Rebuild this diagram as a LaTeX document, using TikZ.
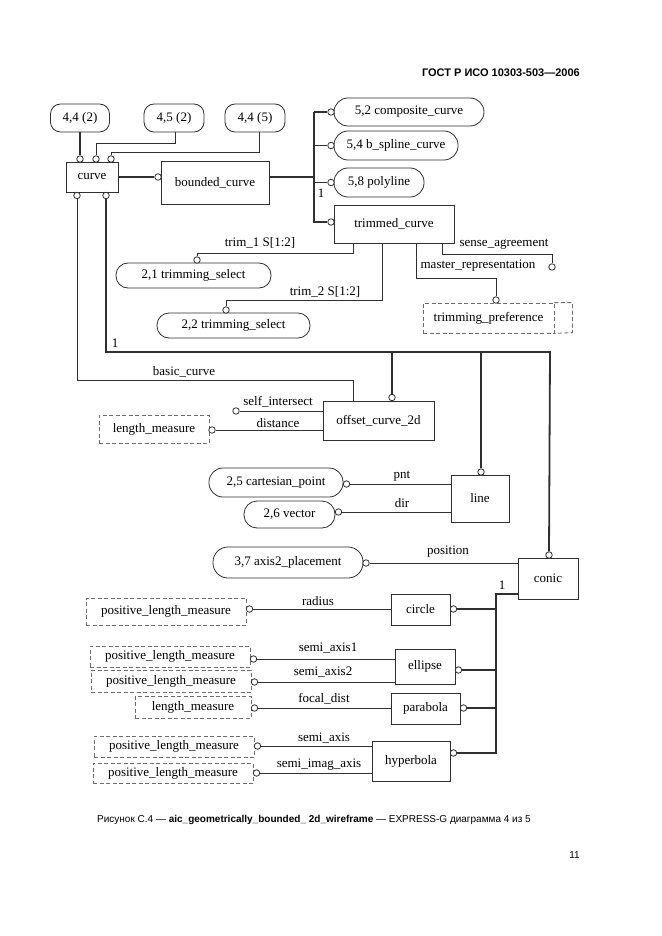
\documentclass[tikz,border=0pt]{standalone}
\usepackage{fontspec}
\setmainfont{Liberation Serif}
\newfontfamily\hdr{Liberation Sans}
\usetikzlibrary{calc}
\definecolor{ln}{HTML}{303030}
\tikzset{
  base/.style={draw=ln, line width=0.8pt, inner sep=0pt, font=\fontsize{13}{15}\selectfont, text=black},
  ent/.style={base, rectangle},
  refbox/.style={base, rectangle, rounded corners=10pt},
  pill/.style={base, rectangle, rounded corners=12pt},
  dtype/.style={base, rectangle, draw=gray!85!black, dash pattern=on 4pt off 2.5pt},
  oc/.style={circle, draw=ln, line width=0.8pt, fill=white, minimum size=6.5pt, inner sep=0pt},
  lbl/.style={inner sep=0pt, font=\fontsize{13}{15}\selectfont},
  thinl/.style={draw=ln, line width=0.8pt},
  thickl/.style={draw=ln, line width=1.8pt},
}
\begin{document}
\begin{tikzpicture}[x=1pt,y=-1pt]
\useasboundingbox (0,0) rectangle (661,936);
\fill[white] (0,0) rectangle (661,936);

% header and footer
\node[anchor=east, inner sep=0pt, font=\hdr\bfseries\fontsize{11}{13}\selectfont] (hd) at (580,73) {ГОСТ Р ИСО 10303-503—2006};
\node[anchor=west, inner sep=0pt, font=\hdr\fontsize{10}{12}\selectfont] (cap) at (97,820) {Рисунок С.4 — \textbf{aic\_geometrically\_bounded\_ 2d\_wireframe} — EXPRESS-G диаграмма 4 из 5};
\node[anchor=east, inner sep=0pt, font=\hdr\fontsize{10}{12}\selectfont] (pg) at (580,855) {11};

% page reference boxes
\node[refbox, minimum width=59pt, minimum height=28pt] (r1) at (80,118) {4,4 (2)};
\node[refbox, minimum width=60pt, minimum height=28pt] (r2) at (174,118) {4,5 (2)};
\node[refbox, minimum width=60pt, minimum height=28pt] (r3) at (255,118) {4,4 (5)};

% entities
\node[ent, minimum width=52pt, minimum height=30pt] (curve) at (92,177) {curve};
\node[ent, minimum width=108pt, minimum height=43pt] (bounded) at (215,182.5) {bounded\_curve};
\node[pill, minimum width=150pt, minimum height=28pt, rounded corners=14pt] (comp) at (409,112) {5,2 composite\_curve};
\node[pill, minimum width=124pt, minimum height=29pt, rounded corners=14pt] (bsp) at (396,145.5) {5,4 b\_spline\_curve};
\node[pill, minimum width=90pt, minimum height=29pt, rounded corners=14pt] (poly) at (379,182.5) {5,8 polyline};
\node[ent, minimum width=120pt, minimum height=38pt] (trim) at (394,224) {trimmed\_curve};
\node[pill, minimum width=155pt, minimum height=25pt] (ts1) at (193.5,275.5) {2,1 trimming\_select};
\node[pill, minimum width=153pt, minimum height=25pt] (ts2) at (233.5,325.5) {2,2 trimming\_select};
\node[dtype, minimum width=131pt, minimum height=30pt] (tpref) at (488.5,318) {trimming\_preference};
\draw[gray!85!black, line width=0.8pt, dash pattern=on 4pt off 2.5pt] (tpref.north east) -- ++(18,0) -- ++(0,30) -- (tpref.south east);

\node[ent, minimum width=111pt, minimum height=39pt] (offset) at (378.5,420.5) {offset\_curve\_2d};
\node[dtype, minimum width=110pt, minimum height=28pt] (lm1) at (154,429) {length\_measure};
\node[ent, minimum width=58pt, minimum height=47pt] (line) at (480,498.5) {line};
\node[pill, minimum width=134pt, minimum height=29pt, rounded corners=14pt] (cp) at (276,482.5) {2,5 cartesian\_point};
\node[pill, minimum width=91pt, minimum height=27pt, rounded corners=13pt] (vec) at (289.5,514.5) {2,6 vector};
\node[ent, minimum width=60pt, minimum height=41pt] (conic) at (548,578.5) {conic};
\node[pill, minimum width=150pt, minimum height=31pt, rounded corners=15pt] (ax) at (288,562.5) {3,7 axis2\_placement};
\node[ent, minimum width=59pt, minimum height=31pt] (circ) at (420.5,609.5) {circle};
\node[dtype, minimum width=160pt, minimum height=27pt] (plm0) at (166,611.5) {positive\_length\_measure};
\node[ent, minimum width=60pt, minimum height=35pt] (ell) at (425,666.5) {ellipse};
\node[dtype, minimum width=160pt, minimum height=21pt] (plm1) at (170,656.5) {positive\_length\_measure};
\node[dtype, minimum width=160pt, minimum height=22pt] (plm2) at (171,681) {positive\_length\_measure};
\node[ent, minimum width=69pt, minimum height=31pt] (par) at (425.5,708.5) {parabola};
\node[dtype, minimum width=116pt, minimum height=22pt] (lm2) at (193,707) {length\_measure};
\node[ent, minimum width=78pt, minimum height=40pt] (hyp) at (411,761) {hyperbola};
\node[dtype, minimum width=160pt, minimum height=21pt] (plm3) at (174,746.5) {positive\_length\_measure};
\node[dtype, minimum width=160pt, minimum height=20pt] (plm4) at (173,773) {positive\_length\_measure};

% circles (relationship ends)
\node[oc] (cr1) at (80,159) {};
\node[oc] (cr2) at (96,159) {};
\node[oc] (cr3) at (111,159) {};
\node[oc] (ccb1) at (77,195.5) {};
\node[oc] (ccb2) at (106,195.5) {};
\node[oc] (cbc) at (158,177) {};
\node[oc] (ccomp) at (331,112) {};
\node[oc] (cbsp) at (331,145.5) {};
\node[oc] (cpoly) at (331,182.5) {};
\node[oc] (ctrim) at (331,222) {};
\node[oc] (cts1) at (197,260) {};
\node[oc] (cts2) at (226,310) {};
\node[oc] (cmr) at (496,300) {};
\node[oc] (csa) at (552,267) {};
\node[oc] (coff) at (392,397.5) {};
\node[oc] (cline) at (481,472) {};
\node[oc] (cconic) at (549,555) {};
\node[oc] (csi) at (236,411) {};
\node[oc] (cdist) at (212,430) {};
\node[oc] (cpnt) at (346.5,484) {};
\node[oc] (cdir) at (338.5,512) {};
\node[oc] (cpos) at (366,563) {};
\node[oc] (ccirc) at (453.5,609) {};
\node[oc] (cell) at (458.5,670) {};
\node[oc] (cpar) at (463.5,708) {};
\node[oc] (chyp) at (453.5,753) {};
\node[oc] (crad) at (249.5,609) {};
\node[oc] (csa1) at (253.5,659) {};
\node[oc] (csa2) at (254.5,682) {};
\node[oc] (cfd) at (254.5,708) {};
\node[oc] (csx) at (257.5,746) {};
\node[oc] (csim) at (256.5,773) {};

% junction coordinates
\coordinate (t1) at (314,112);
\coordinate (t2) at (314,222);
\coordinate (hb) at (106,352);
\coordinate (he) at (550,352);
\coordinate (st) at (496,594);
\coordinate (sb) at (496,753);

% top references
\draw[thickl] (r1.south) -- (cr1);
\draw[thinl] (r2.south) ++(1,0) -- ++(0,11) -| (cr2);
\draw[thinl] (r3.south) ++(4,0) -- ++(0,20) -| (cr3);

% curve -> bounded_curve -> subtypes
\draw[thickl] (curve.east |- cbc) -- (cbc);
\draw[thickl] (bounded.east |- cbc) -- (t1 |- cbc);
\draw[thickl] (t1) -- (t2) -- (ctrim);
\draw[thickl] (t1) -- (ccomp);
\draw[thickl] (t1 |- cbsp) -- (cbsp);
\draw[thickl] (t1 |- cpoly) -- (cpoly);
\node[lbl] (one1) at (321,193) {1};

% trimmed_curve attributes
\draw[thinl] (trim.south west) ++(20,0) -- ++(0,10) -| (cts1);
\draw[thinl] (trim.south west) ++(49,0) -- ++(0,57) -| (cts2);
\draw[thinl] (trim.south west) ++(83,0) -- ++(0,35) -| (cmr);
\draw[thinl] (trim.south west) ++(109,0) -- ++(0,11) -| (csa);
\node[lbl] (ltrim1) at (260,243) {trim\_1 S[1:2]};
\node[lbl] (ltrim2) at (325,292) {trim\_2 S[1:2]};
\node[lbl] (lmr) at (478,266) {master\_representation};
\node[lbl] (lsa) at (504,244) {sense\_agreement};

% curve -> other subtypes
\draw[thickl] (ccb2) -- (hb) -- (he) -- (cconic);
\draw[thickl] (hb -| coff) -- (coff);
\draw[thickl] (hb -| cline) -- (cline);
\node[lbl] (one2) at (115,343) {1};

% basic_curve
\draw[thinl] (ccb1) |- ($(offset.north west)+(31,-20)$) -- ($(offset.north west)+(31,0)$);
\node[lbl] (lbc) at (184,372) {basic\_curve};

% offset_curve_2d attributes
\draw[thinl] (csi) -- (offset.west |- csi);
\draw[thinl] (cdist) -- (offset.west |- cdist);
\node[lbl] (lsi) at (278,402) {self\_intersect};
\node[lbl] (ldist) at (278,423) {distance};

% line attributes
\draw[thinl] (cpnt) -- (line.west |- cpnt);
\draw[thinl] (cdir) -- (line.west |- cdir);
\node[lbl] (lpnt) at (402,476) {pnt};
\node[lbl] (ldir) at (402,503) {dir};

% conic
\draw[thinl] (cpos) -- (conic.west |- cpos);
\node[lbl] (lpos) at (448,552) {position};
\draw[thickl] (conic.west |- st) -- (st) -- (sb) -- (chyp);
\draw[thickl] (ccirc) -- (st |- ccirc);
\draw[thickl] (cell) -- (st |- cell);
\draw[thickl] (cpar) -- (st |- cpar);
\node[lbl] (one3) at (502,585) {1};

% conic subtypes attributes
\draw[thinl] (crad) -- (circ.west |- crad);
\node[lbl] (lrad) at (318,601) {radius};
\draw[thinl] (csa1) -- (ell.west |- csa1);
\node[lbl] (lsa1) at (328,648) {semi\_axis1};
\draw[thinl] (csa2) -- (ell.west |- csa2);
\node[lbl] (lsa2) at (323,672) {semi\_axis2};
\draw[thinl] (cfd) -- (par.west |- cfd);
\node[lbl] (lfd) at (324,699) {focal\_dist};
\draw[thinl] (csx) -- (hyp.west |- csx);
\node[lbl] (lsx) at (324,738) {semi\_axis};
\draw[thinl] (csim) -- (hyp.west |- csim);
\node[lbl] (lsim) at (319,765) {semi\_imag\_axis};
\end{tikzpicture}
\end{document}
